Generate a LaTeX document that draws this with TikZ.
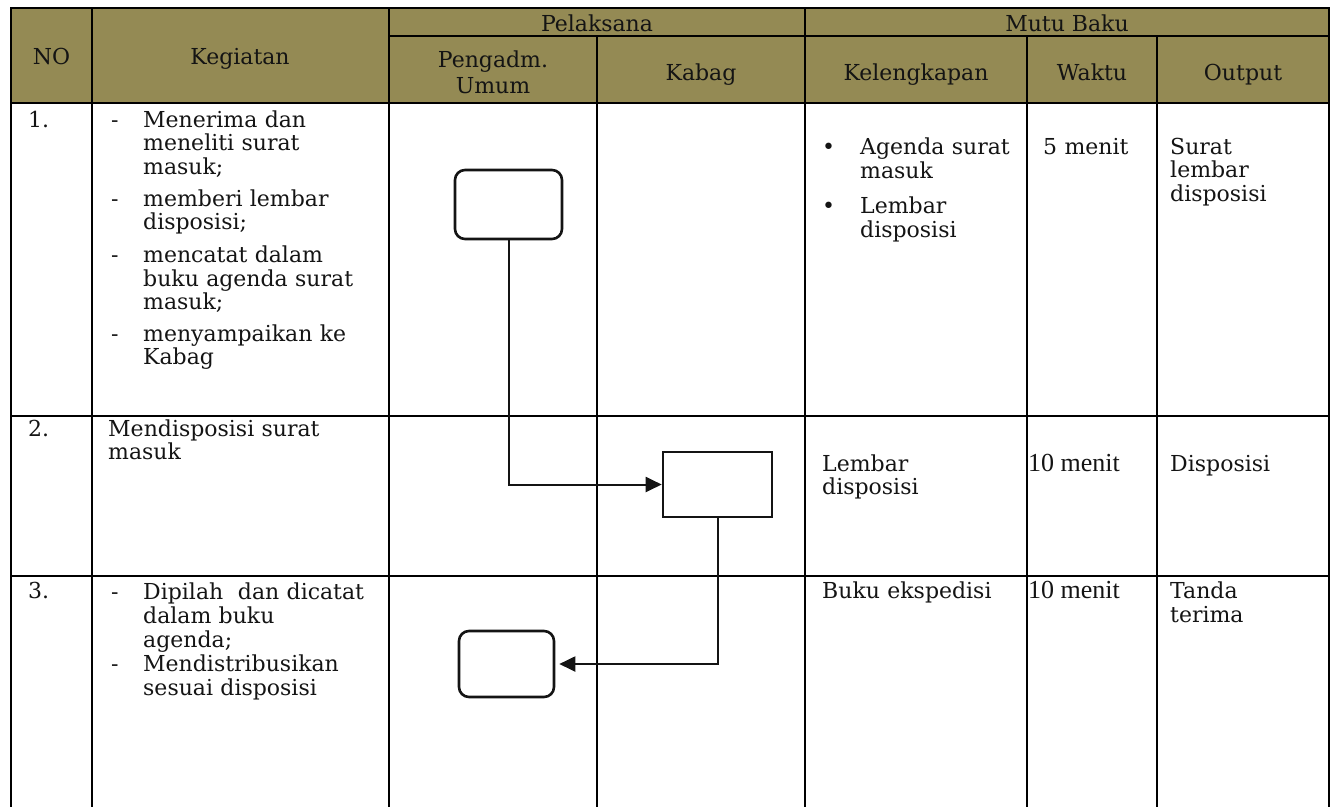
\documentclass[tikz,border=0pt]{standalone}
\usepackage{fontspec}
\setmainfont{DejaVu Serif}
\newfontfamily\timesfont{Liberation Serif}
\usetikzlibrary{arrows.meta}
\definecolor{headolive}{HTML}{948A54}
\definecolor{ink}{HTML}{141414}

% hanging dash / bullet markers for list items
\newcommand\dsh{\makebox[32pt][l]{-}}
\newcommand\hng{\hspace*{32pt}}
\newcommand\bul{\makebox[38pt][l]{\textbullet}}
\newcommand\bhng{\hspace*{38pt}}

\begin{document}
\begin{tikzpicture}[x=1pt,y=-1pt,
  gridline/.style={line width=2.8pt, line cap=rect},
  head/.style={font=\fontsize{22}{26}\selectfont, text=ink, inner sep=0pt, anchor=base, align=center},
  cell/.style={font=\fontsize{22}{#1}\selectfont, text=ink, inner sep=0pt, anchor=base west, align=left, text width=300pt},
  cell/.default=23.5,
  tcell/.style={font=\timesfont\fontsize{26}{28}\selectfont, text=ink, inner sep=0pt, anchor=base west},
  termbox/.style={draw=ink, line width=2.6pt, rounded corners=10pt, fill=white},
  procbox/.style={draw=ink, line width=2.6pt, fill=white},
  conn/.style={draw=ink, line width=2pt, -{Triangle[length=16pt,width=15pt]}}
]
\useasboundingbox (0,0) rectangle (1337,806);

% header background
\fill[headolive] (11,8) rectangle (1329,103);

% table rules
\draw[gridline] (11,8) -- (1329,8);
\draw[gridline] (389,36) -- (1329,36);
\draw[gridline] (11,103) -- (1329,103);
\draw[gridline] (11,416) -- (1329,416);
\draw[gridline] (11,576) -- (1329,576);
\foreach \x in {11,92,389,805,1329} \draw[gridline] (\x,8) -- (\x,808);
\foreach \x in {597,1027,1157} \draw[gridline] (\x,36) -- (\x,808);

% header texts
\node[head] (hno)  at (51.5,64) {NO};
\node[head] (hkeg) at (240,64) {Kegiatan};
\node[head] (hpel) at (597,31) {Pelaksana};
\node[head] (hmut) at (1067,31) {Mutu Baku};
\node[head] (hpeng) at (493,93) {Pengadm.\\Umum};
\node[head] (hkab) at (701,80) {Kabag};
\node[head] (hkel) at (916,80) {Kelengkapan};
\node[head] (hwak) at (1092,80) {Waktu};
\node[head] (hout) at (1243,80) {Output};

% row 1
\node[cell] (n1) at (28,127) {1.};
\node[cell] (k1) at (111,127) {\dsh Menerima dan\\\hng meneliti surat\\\hng masuk;\\[8.5pt]\dsh memberi lembar\\\hng disposisi;\\[9.5pt]\dsh mencatat dalam\\\hng buku agenda surat\\\hng masuk;\\[8pt]\dsh menyampaikan ke\\\hng Kabag};
\node[cell=24] (l1) at (822,154) {\bul Agenda surat\\\bhng masuk\\[11pt]\bul Lembar\\\bhng disposisi};
\node[cell] (w1) at (1043,154) {5 menit};
\node[cell] (o1) at (1170,154) {Surat\\lembar\\disposisi};

% row 2
\node[cell] (n2) at (28,436) {2.};
\node[cell] (k2) at (108,436) {Mendisposisi surat\\masuk};
\node[cell=23] (l2) at (822,471) {Lembar\\disposisi};
\node[tcell] (w2) at (1028,471) {10 menit};
\node[cell] (o2) at (1170,471) {Disposisi};

% row 3
\node[cell] (n3) at (28,598) {3.};
\node[cell=24] (k3) at (111,599) {\dsh Dipilah\ \ dan dicatat\\\hng dalam buku\\\hng agenda;\\\dsh Mendistribusikan\\\hng sesuai disposisi};
\node[cell] (l3) at (822,598) {Buku ekspedisi};
\node[tcell] (w3) at (1028,598) {10 menit};
\node[cell=24] (o3) at (1170,598) {Tanda\\terima};

% flow symbols
\node[termbox, minimum width=107pt, minimum height=69pt] (b1) at (508.5,204.5) {};
\node[procbox, minimum width=109pt, minimum height=65pt] (b2) at (717.5,484.5) {};
\node[termbox, minimum width=95pt, minimum height=66pt] (b3) at (506.5,664) {};

\draw[conn] (b1.south) |- (b2.west);
\draw[conn, shorten >=4pt] (b2.south) |- (b3.east);
\end{tikzpicture}
\end{document}
